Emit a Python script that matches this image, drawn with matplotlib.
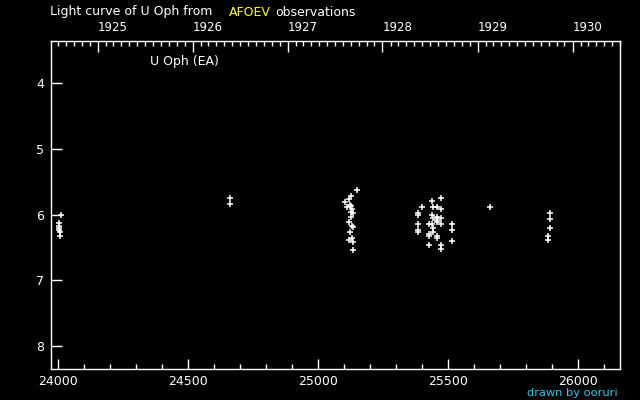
import numpy as np
import pandas as pd
import matplotlib
matplotlib.use('Agg')
import matplotlib.pyplot as plt

# JD - 2400000 and visual magnitude
jd = [24003, 24003, 24003, 24004, 24006, 24008, 24011,
      24660, 24660,
      25150, 25124, 25117, 25103, 25120, 25124, 25109, 25128, 25125, 25133,
      25127, 25118, 25130, 25134, 25123, 25130, 25119, 25134, 25134,
      25473, 25438, 25400, 25442, 25457, 25473, 25384, 25384, 25438, 25457,
      25442, 25473, 25457, 25457, 25473, 25427, 25438, 25384, 25515, 25442,
      25384, 25384, 25515, 25442, 25427, 25427, 25457, 25457, 25515, 25427,
      25473, 25473,
      25661, 25892, 25892, 25892, 25884, 25884]
mag = [6.13, 6.17, 6.21, 6.23, 6.26, 6.33, 6.00,
       5.75, 5.84,
       5.63, 5.72, 5.76, 5.81, 5.85, 5.87, 5.89, 5.91, 5.96, 5.97,
       6.04, 6.12, 6.17, 6.19, 6.26, 6.36, 6.38, 6.42, 6.54,
       5.75, 5.80, 5.89, 5.88, 5.89, 5.91, 5.98, 6.01, 6.01, 6.03,
       6.06, 6.06, 6.09, 6.12, 6.14, 6.14, 6.14, 6.15, 6.15, 6.20,
       6.24, 6.26, 6.24, 6.27, 6.29, 6.32, 6.32, 6.35, 6.41, 6.46,
       6.46, 6.52,
       5.89, 5.98, 6.07, 6.21, 6.32, 6.38]

years = [1925, 1926, 1927, 1928, 1929, 1930]
x_range = (23971.5, 26160)
y_range = (8.35, 3.36)

def to_jd(ts):
    return pd.Timestamp(ts).to_julian_date() - 2400000

fig = plt.figure(figsize=(6.4, 4), dpi=100, facecolor='black')
ax = fig.add_axes([51 / 640, 1 - 369 / 400, 569 / 640, 328 / 400])
ax.set_facecolor('black')
ax.plot(jd, mag, linestyle='none', marker='+', color='white',
        markersize=4.5, markeredgewidth=1.1)

ax.set_xlim(*x_range)
ax.set_ylim(*y_range)
ax.set_xticks(np.arange(24000, 26001, 500))
ax.set_xticks(np.arange(24000, 26101, 100), minor=True)
ax.set_yticks([4, 5, 6, 7, 8])
ax.tick_params(axis='x', which='major', direction='in', length=7, width=1,
               colors='white', labelsize=9, pad=4)
ax.tick_params(axis='x', which='minor', direction='in', length=3.5, width=1,
               colors='white')
ax.tick_params(axis='y', which='major', direction='in', length=8, width=1,
               colors='white', labelsize=9, pad=5)
for s in ax.spines.values():
    s.set_color('white')
    s.set_linewidth(1)

# calendar years along the top
ax2 = ax.twiny()
ax2.set_xlim(*x_range)
months = pd.date_range('1924-01-01', '1931-01-01', freq='MS')
month_jd = [to_jd(m) for m in months]
month_jd = [m for m in month_jd if x_range[0] <= m <= x_range[1]]
ax2.set_xticks([to_jd(f'{y}-01-01') for y in years], [str(y) for y in years])
ax2.set_xticks(month_jd, minor=True)
ax2.tick_params(axis='x', which='major', direction='in', length=8, width=1,
                colors='white', labelsize=8.5, pad=5)
ax2.tick_params(axis='x', which='minor', direction='in', length=3.5, width=1,
                colors='white')
for lbl in ax2.get_xticklabels():
    lbl.set_ha('left')
for s in ax2.spines.values():
    s.set_visible(False)

fig.text(50 / 640, 1 - 12 / 400, 'Light curve of U Oph from', color='white',
         fontsize=9, va='center')
fig.text(229 / 640, 1 - 12 / 400, 'AFOEV', color='#ffff00',
         fontsize=9, va='center')
fig.text(275 / 640, 1 - 12 / 400, 'observations', color='white',
         fontsize=9, va='center')
fig.text(150 / 640, 1 - 61 / 400, 'U Oph (EA)', color='white',
         fontsize=9, va='center')
fig.text(618 / 640, 1 - 393.5 / 400, 'drawn by ooruri', color='#22ccee',
         fontsize=8.2, va='center', ha='right')

fig.savefig('out.png', dpi=100, facecolor='black')
